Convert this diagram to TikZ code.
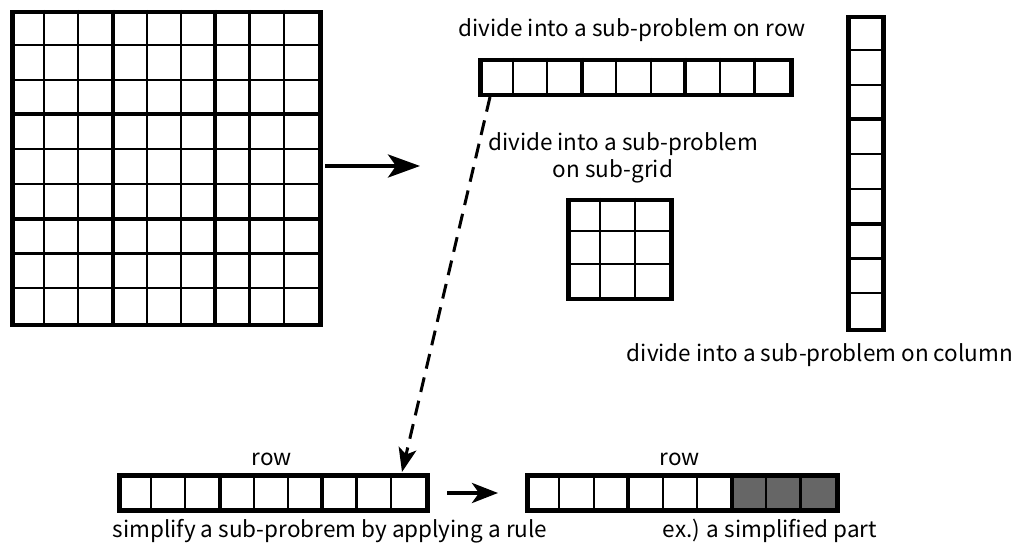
\documentclass[tikz,border=0pt]{standalone}
\usepackage{fontspec}
\setmainfont{Noto Sans CJK JP}
\usetikzlibrary{arrows.meta}
\tikzset{
  thinl/.style={line width=2.1pt},
  blockl/.style={line width=4pt},
  outerl/.style={line width=4.5pt, line join=miter},
  lbl/.style={anchor=base, inner sep=0pt, font=\fontsize{22.5}{27}\selectfont},
  bigarrow/.style={line width=4pt, -{Stealth[length=32pt,width=23pt,inset=8pt]}},
  smallarrow/.style={line width=4pt, -{Stealth[length=26pt,width=20pt,inset=7pt]}},
  dasharrow/.style={line width=3pt, dash pattern=on 15pt off 9pt, -{Stealth[length=24pt,width=18pt,inset=6pt]}},
}
\begin{document}
\begin{tikzpicture}[x=1pt,y=-1pt]
\useasboundingbox (0,0) rectangle (1023,545);
% big grid
\foreach \i in {1,...,8}{
  \draw[thinl] ({10+\i*34.22},10) -- ({10+\i*34.22},323);
  \draw[thinl] (10,{10+\i*34.78}) -- (318,{10+\i*34.78});
}
\foreach \i in {3,6}{
  \draw[blockl] ({10+\i*34.22},10) -- ({10+\i*34.22},323);
  \draw[blockl] (10,{10+\i*34.78}) -- (318,{10+\i*34.78});
}
\node[outerl, draw, minimum width=308pt, minimum height=313pt, anchor=north west, inner sep=0pt] (big) at (10,10) {};
% top row
\foreach \i in {1,...,8} \draw[thinl] ({478+\i*34.56},58) -- ({478+\i*34.56},93);
\foreach \i in {3,6} \draw[blockl] ({478+\i*34.56},58) -- ({478+\i*34.56},93);
\node[outerl, draw, minimum width=311pt, minimum height=35pt, anchor=north west, inner sep=0pt] (toprow) at (478,58) {};
% column
\foreach \i in {1,...,8} \draw[thinl] (846,{15+\i*34.78}) -- (881,{15+\i*34.78});
\foreach \i in {3,6} \draw[blockl] (846,{15+\i*34.78}) -- (881,{15+\i*34.78});
\node[outerl, draw, minimum width=35pt, minimum height=313pt, anchor=north west, inner sep=0pt] (col) at (846,15) {};
% sub-grid
\foreach \i in {1,2}{
  \draw[thinl] ({566+\i*34.33},198) -- ({566+\i*34.33},297);
  \draw[thinl] (566,{198+\i*33}) -- (669,{198+\i*33});
}
\node[outerl, draw, minimum width=103pt, minimum height=99pt, anchor=north west, inner sep=0pt] (sub) at (566,198) {};
% bottom-left row
\foreach \i in {1,...,8} \draw[thinl] ({117+\i*34.22},473) -- ({117+\i*34.22},508);
\foreach \i in {3,6} \draw[blockl] ({117+\i*34.22},473) -- ({117+\i*34.22},508);
\node[outerl, draw, minimum width=308pt, minimum height=35pt, anchor=north west, inner sep=0pt] (rowa) at (117,473) {};
% bottom-right row
\fill[black!60] ({525+6*34.44},473) rectangle (835,508);
\foreach \i in {1,...,8} \draw[thinl] ({525+\i*34.44},473) -- ({525+\i*34.44},508);
\foreach \i in {3,6} \draw[blockl] ({525+\i*34.44},473) -- ({525+\i*34.44},508);
\node[outerl, draw, minimum width=310pt, minimum height=35pt, anchor=north west, inner sep=0pt] (rowb) at (525,473) {};
% labels
\node[lbl] (t1) at (632,37) {divide into a sub-problem on row};
\node[lbl] (t2) at (623,151) {divide into a sub-problem};
\node[lbl] (t3) at (613,178) {on sub-grid};
\node[lbl] (t4) at (820,362) {divide into a sub-problem on column};
\node[lbl] (t5) at (272,465) {row};
\node[lbl] (t6) at (680,465) {row};
\node[lbl] (t7) at (330,537) {simplify a sub-probrem by applying a rule};
\node[lbl] (t8) at (770,537) {ex.) a simplified part};
% arrows
\coordinate (a1s) at (325,166);
\coordinate (a1e) at (420,166);
\draw[bigarrow] (a1s) -- (a1e);
\coordinate (a2s) at (447,493);
\coordinate (a2e) at (498,493);
\draw[smallarrow] (a2s) -- (a2e);
\coordinate (a3s) at (490,97);
\coordinate (a3e) at (402,472);
\draw[dasharrow] (a3s) -- (a3e);
\end{tikzpicture}
\end{document}
